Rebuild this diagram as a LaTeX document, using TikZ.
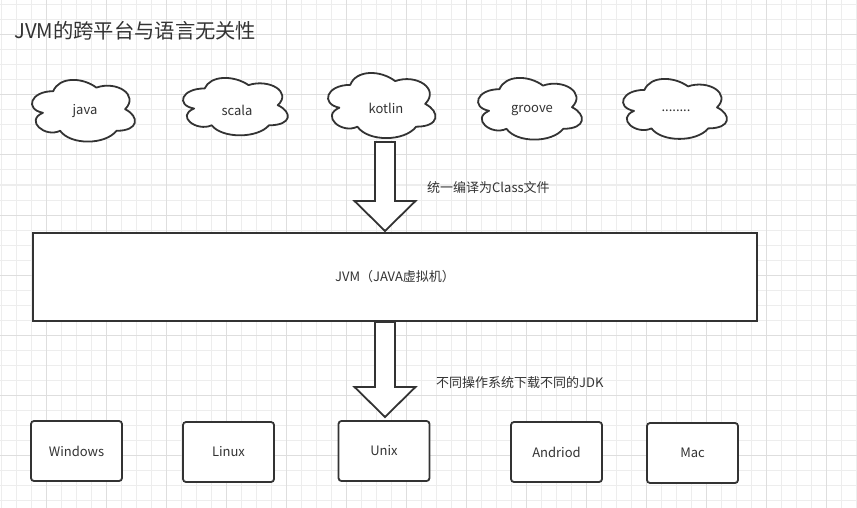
\documentclass[tikz,border=0pt]{standalone}
\usepackage{fontspec}
\setmainfont{Noto Sans CJK SC}
\usetikzlibrary{calc}
\definecolor{ink}{HTML}{333333}
\definecolor{txt}{HTML}{333333}
\definecolor{gminor}{HTML}{EDEDED}
\definecolor{gmajor}{HTML}{DEDEDE}
\tikzset{
  gridminor/.style={draw=gminor, line width=1pt},
  gridmajor/.style={draw=gmajor, line width=1pt},
  cloudline/.style={draw=ink, line width=1.8pt, fill=white, line join=round},
  lbl/.style={font=\fontsize{13}{15}\selectfont, text=txt, inner sep=0pt},
  osbox/.style={draw=ink, line width=1.8pt, fill=white, rounded corners=3pt, minimum width=91pt, minimum height=60pt, font=\fontsize{13}{15}\selectfont, text=txt, inner sep=0pt},
  jvmbox/.style={draw=ink, line width=1.8pt, fill=white, minimum width=724pt, minimum height=88pt, font=\fontsize{13}{15}\selectfont, text=txt, inner sep=0pt},
  barrow/.style={draw=ink, line width=1.8pt, fill=white, line join=miter},
}
\newcommand\mycloud[8]{% name, x, y, w, h, text, tx, ty
  \begin{scope}[shift={(#2,#3)}, x=#4pt, y=-#5pt]
    \draw[cloudline] (0.25,0.25) .. controls (0.05,0.25) and (0,0.5) .. (0.16,0.55)
      .. controls (0,0.66) and (0.18,0.9) .. (0.31,0.8)
      .. controls (0.4,1) and (0.7,1) .. (0.8,0.8)
      .. controls (1,0.8) and (1,0.6) .. (0.875,0.5)
      .. controls (1,0.3) and (0.8,0.1) .. (0.625,0.2)
      .. controls (0.5,0.05) and (0.3,0.05) .. (0.25,0.25) -- cycle;
  \end{scope}
  \node[lbl] (#1) at (#7,#8) {#6};
}
\newcommand\blockarrow[2]{%
  \draw[barrow] let \p1=(#1), \p2=(#2) in
    (\x1-10,\y1) -- (\x1-10,\y2+30) -- (\x1-30.5,\y2+30) -- (\x2,\y2)
    -- (\x1+30.5,\y2+30) -- (\x1+10,\y2+30) -- (\x1+10,\y1) -- cycle;
}
\begin{document}
\begin{tikzpicture}[x=1pt,y=-1pt]
\useasboundingbox (0,0) rectangle (857,508);
\fill[white] (0,0) rectangle (857,508);
% grid
\foreach \i in {0,...,57} {\draw[gridminor] (1.7+15*\i,0) -- (1.7+15*\i,508);}
\foreach \i in {0,...,33} {\draw[gridminor] (0,5+15*\i) -- (857,5+15*\i);}
\foreach \i in {0,...,13} {\draw[gridmajor] (46.7+60*\i,0) -- (46.7+60*\i,508);}
\foreach \i in {0,...,8} {\draw[gridmajor] (0,35+60*\i) -- (857,35+60*\i);}
% title
\node[anchor=west, inner sep=0pt, text=txt, font=\fontsize{20.3}{23}\selectfont] (title) at (14,31) {JVM的跨平台与语言无关性};
% clouds
\mycloud{java}{24.5}{73.2}{115}{72}{java}{85}{111}
\mycloud{scala}{175.4}{71.7}{117}{67}{scala}{237}{110}
\mycloud{kotlin}{320.2}{65.9}{120}{76}{kotlin}{386}{108}
\mycloud{groove}{470.5}{71.2}{116}{72}{groove}{532}{111}
\mycloud{more}{615.5}{72.4}{116}{70}{........}{676}{111}
% JVM
\node[jvmbox] (jvm) at (395,277) {JVM（JAVA虚拟机）};
% arrows
\coordinate (a1s) at (385,142);
\coordinate (a1e) at (385,231);
\coordinate (a2s) at (385,322);
\coordinate (a2e) at (385,417);
\blockarrow{a1s}{a1e}
\blockarrow{a2s}{a2e}
\node[lbl, anchor=west] (l1) at (427,188) {统一编译为Class文件};
\node[lbl, anchor=west] (l2) at (436,383) {不同操作系统下载不同的JDK};
% OS boxes
\node[osbox] (win) at (76.5,451) {Windows};
\node[osbox] (linux) at (228.5,452) {Linux};
\node[osbox] (unix) at (384,451) {Unix};
\node[osbox] (andriod) at (556.5,452) {Andriod};
\node[osbox] (mac) at (692.5,453) {Mac};
\end{tikzpicture}
\end{document}
